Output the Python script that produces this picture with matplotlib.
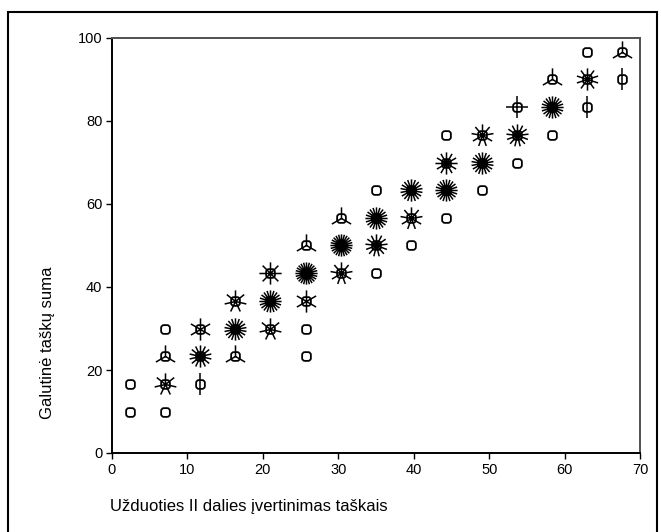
"""Sunflower plot: final score vs. part II score (SPSS-style)."""
import matplotlib
matplotlib.use("Agg")
import matplotlib.pyplot as plt
from matplotlib.path import Path
from matplotlib.patches import Rectangle
import numpy as np

plt.rcParams["font.family"] = ["Liberation Sans", "DejaVu Sans"]

# sunflower cell centres and number of cases in each cell
cell_x = [2.33, 2.33,
          7.0, 7.0, 7.0, 7.0,
          11.67, 11.67, 11.67,
          16.33, 16.33, 16.33,
          21.0, 21.0, 21.0,
          25.67, 25.67, 25.67, 25.67, 25.67,
          30.33, 30.33, 30.33,
          35.0, 35.0, 35.0, 35.0,
          39.67, 39.67, 39.67,
          44.33, 44.33, 44.33, 44.33,
          49.0, 49.0, 49.0,
          53.67, 53.67, 53.67,
          58.33, 58.33, 58.33,
          63.0, 63.0, 63.0,
          67.67, 67.67]
cell_y = [10.0, 16.67,
          10.0, 16.67, 23.33, 30.0,
          16.67, 23.33, 30.0,
          23.33, 30.0, 36.67,
          30.0, 36.67, 43.33,
          23.33, 30.0, 36.67, 43.33, 50.0,
          43.33, 50.0, 56.67,
          43.33, 50.0, 56.67, 63.33,
          50.0, 56.67, 63.33,
          56.67, 63.33, 70.0, 76.67,
          63.33, 70.0, 76.67,
          70.0, 76.67, 83.33,
          76.67, 83.33, 90.0,
          83.33, 90.0, 96.67,
          90.0, 96.67]
cell_n = [1, 1,
          1, 7, 3, 1,
          2, 14, 6,
          3, 18, 7,
          7, 20, 8,
          1, 1, 6, 24, 3,
          9, 24, 3,
          1, 13, 20, 1,
          1, 9, 18,
          1, 20, 12, 1,
          1, 18, 9,
          1, 13, 4,
          1, 20, 3,
          2, 10, 1,
          2, 3]

x_ticks = [0, 10, 20, 30, 40, 50, 60, 70]
y_ticks = [0, 20, 40, 60, 80, 100]


def petals(n):
    # one line per case, starting straight up
    verts, codes = [], []
    for k in range(n):
        a = np.pi / 2 + 2 * np.pi * k / n
        verts += [(0, 0), (np.cos(a), np.sin(a))]
        codes += [Path.MOVETO, Path.LINETO]
    return Path(verts, codes)


def rounded_square(r=0.32):
    h = 0.5
    verts = [(-h + r, -h), (h - r, -h), (h, -h), (h, -h + r), (h, h - r), (h, h),
             (h - r, h), (-h + r, h), (-h, h), (-h, h - r), (-h, -h + r), (-h, -h),
             (-h + r, -h), (0, 0)]
    codes = [Path.MOVETO, Path.LINETO, Path.CURVE3, Path.CURVE3, Path.LINETO,
             Path.CURVE3, Path.CURVE3, Path.LINETO, Path.CURVE3, Path.CURVE3,
             Path.LINETO, Path.CURVE3, Path.CURVE3, Path.CLOSEPOLY]
    return Path(verts, codes)


fig = plt.figure(figsize=(6.61, 5.32), dpi=100)
ax = fig.add_axes([112 / 661, 1 - 453 / 532, 528 / 661, 415 / 532])

cx = np.array(cell_x)
cy = np.array(cell_y)
cn = np.array(cell_n)

for n in sorted(set(cell_n)):
    if n < 2:
        continue
    m = cn == n
    ax.plot(cx[m], cy[m], ls="none", marker=petals(n), ms=16,
            mec="black", mfc="none", mew=1.1)

ax.plot(cx, cy, ls="none", marker=rounded_square(), ms=6.3,
        mec="black", mfc="none", mew=1.3)

ax.set_xlim(0, 70)
ax.set_ylim(0, 100)
ax.set_xticks(x_ticks)
ax.set_yticks(y_ticks)
ax.tick_params(direction="out", length=4.5, width=1, labelsize=10.5, pad=2.5)

for s in ["left", "bottom"]:
    ax.spines[s].set_color("black")
    ax.spines[s].set_linewidth(1.4)
for s in ["top", "right"]:
    ax.spines[s].set_color("#505050")
    ax.spines[s].set_linewidth(1.4)

fig.text(48 / 661, 1 - 343 / 532, "Galutinė taškų suma", rotation=90,
         ha="center", va="center", fontsize=12)
fig.text(110 / 661, 1 - 507 / 532, "Užduoties II dalies įvertinimas taškais",
         ha="left", va="center", fontsize=12)

# outer frame round the whole chart
fig.patches.append(Rectangle((8 / 661, -0.02), 649 / 661, 1.02 - 12 / 532,
                             transform=fig.transFigure, fill=False,
                             edgecolor="black", linewidth=1.5))

fig.savefig("out.png", dpi=100)
